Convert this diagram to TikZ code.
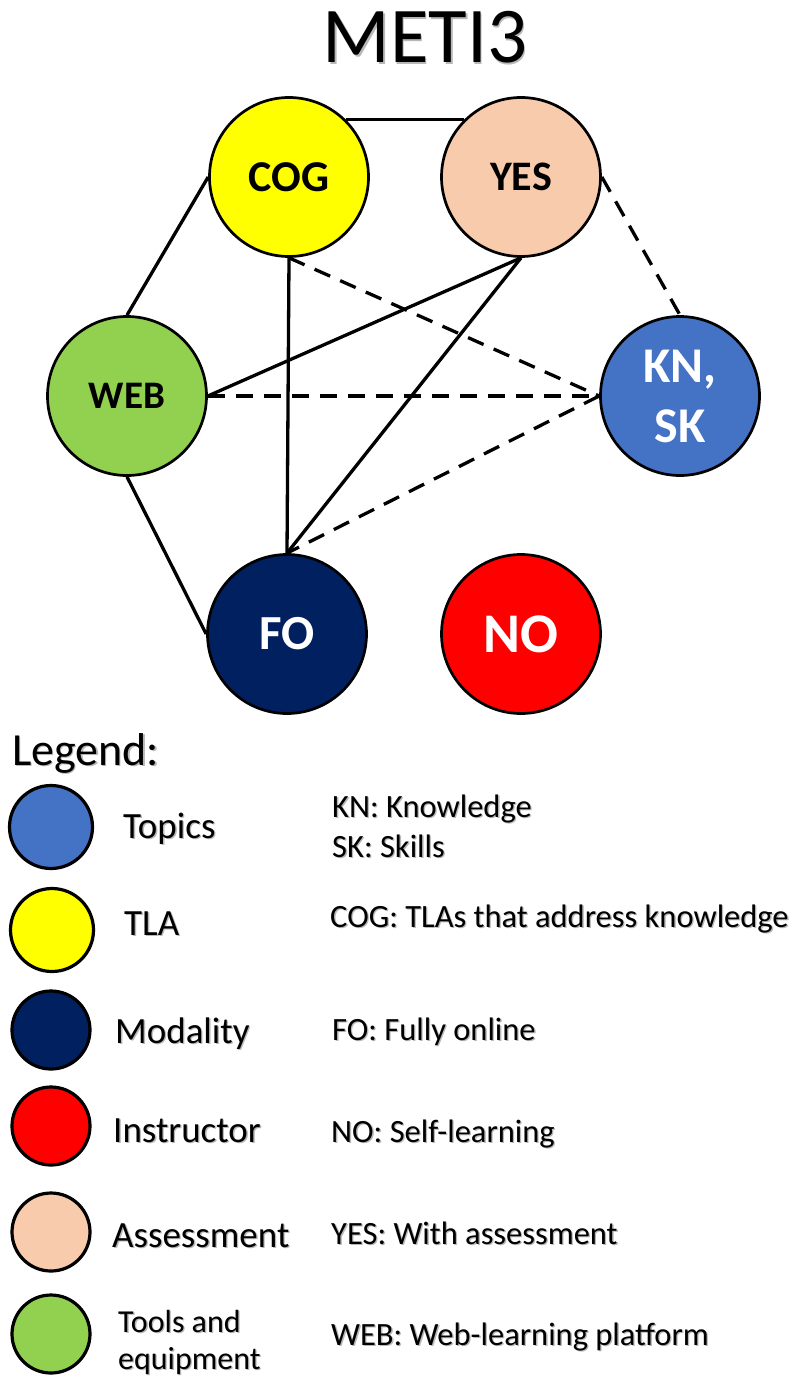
\documentclass[tikz,border=0pt]{standalone}
\usepackage{fontspec}
\setmainfont{Carlito}

\definecolor{topicblue}{HTML}{4472C4}
\definecolor{tlayellow}{HTML}{FFFF00}
\definecolor{modalnavy}{HTML}{002060}
\definecolor{instred}{HTML}{FF0000}
\definecolor{assesspeach}{HTML}{F8CBAD}
\definecolor{toolgreen}{HTML}{92D050}

% text with a soft drop shadow
\newcommand{\shadowed}[1]{\leavevmode\rlap{\kern1.3pt\raisebox{-1.3pt}{\textcolor{black!28}{#1}}}#1}

\begin{document}
\begin{tikzpicture}[x=1pt,y=-1pt,
  hub/.style={circle, draw=black, line width=2.7pt, minimum size=159pt, inner sep=0pt, align=center},
  link/.style={line width=3.3pt},
  weak/.style={line width=3.3pt, dash pattern=on 17pt off 11pt},
  swatch/.style={circle, draw=black, line width=3.2pt, inner sep=0pt},
  key/.style={anchor=base west, inner sep=0pt, font=\fontsize{37}{44}\selectfont},
  note/.style={anchor=base west, inner sep=0pt, font=\fontsize{32.5}{40}\selectfont}]
\useasboundingbox (0,0) rectangle (802,1380);

% title
\node[anchor=base, inner sep=0pt, font=\fontsize{79}{90}\selectfont] (title) at (425,63) {\shadowed{METI3}};

% network nodes
\node[hub, fill=tlayellow, font=\fontsize{44}{53}\selectfont\bfseries] (cog) at (289,177) {COG};
\node[hub, fill=assesspeach, font=\fontsize{42}{50}\selectfont\bfseries] (yes) at (521,177) {YES};
\node[hub, fill=toolgreen, font=\fontsize{39}{47}\selectfont\bfseries] (web) at (127,396) {WEB};
\node[hub, fill=topicblue, text=white, font=\fontsize{50}{60}\selectfont\bfseries] (kn) at (680,396) {KN,\\SK};
\node[hub, fill=modalnavy, text=white, font=\fontsize{49}{58}\selectfont\bfseries] (fo) at (287,634) {FO};
\node[hub, fill=instred, text=white, font=\fontsize{56}{66}\selectfont\bfseries] (no) at (521,634) {NO};

% solid links
\draw[link] (cog.45) -- (yes.135);
\draw[link] (cog.west) -- (web.north);
\draw[link] (cog.south) -- (fo.north);
\draw[link] (yes.south) -- (web.east);
\draw[link] (yes.south) -- (fo.north);
\draw[link] (web.south) -- (fo.west);

% dashed links
\draw[weak] (cog.south) -- (kn.west);
\draw[weak] (yes.east) -- (kn.north);
\draw[weak] (web.east) -- (kn.west);
\draw[weak] (kn.west) -- (fo.north);

% legend
\node[anchor=base west, inner sep=0pt, font=\fontsize{46}{54}\selectfont] (legend) at (12,765) {\shadowed{Legend:}};

\node[swatch, fill=topicblue, minimum size=83pt] (sw1) at (51,827) {};
\node[swatch, fill=tlayellow, minimum size=83pt] (sw2) at (52,930) {};
\node[swatch, fill=modalnavy, minimum size=78pt] (sw3) at (51,1030) {};
\node[swatch, fill=instred, minimum size=78pt] (sw4) at (51,1126) {};
\node[swatch, fill=assesspeach, minimum size=78pt] (sw5) at (51,1232) {};
\node[swatch, fill=toolgreen, minimum size=78pt] (sw6) at (51,1334) {};

\node[key] (k1) at (123,838) {\shadowed{Topics}};
\node[key] (k2) at (124,935) {\shadowed{TLA}};
\node[key] (k3) at (115,1043) {\shadowed{Modality}};
\node[key] (k4) at (113,1142) {\shadowed{Instructor}};
\node[key] (k5) at (112,1247) {\shadowed{Assessment}};
\node[key, font=\fontsize{32}{38}\selectfont] (k6a) at (118,1332) {\shadowed{Tools and}};
\node[key, font=\fontsize{32}{38}\selectfont] (k6b) at (118,1369) {\shadowed{equipment}};

\node[note] (n1a) at (332,817) {\shadowed{KN: Knowledge}};
\node[note] (n1b) at (332,857) {\shadowed{SK: Skills}};
\node[note] (n2) at (330,927) {\shadowed{COG: TLAs that address knowledge}};
\node[note] (n3) at (332,1040) {\shadowed{FO: Fully online}};
\node[note] (n4) at (331,1142) {\shadowed{NO: Self-learning}};
\node[note] (n5) at (331,1244) {\shadowed{YES: With assessment}};
\node[note] (n6) at (331,1345) {\shadowed{WEB: Web-learning platform}};
\end{tikzpicture}
\end{document}
